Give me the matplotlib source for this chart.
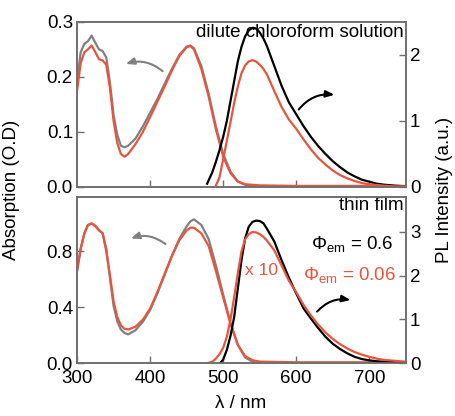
import matplotlib
matplotlib.use("Agg")
import matplotlib.pyplot as plt

plt.rcParams["font.family"] = ["Liberation Sans", "DejaVu Sans"]
plt.rcParams["mathtext.fontset"] = "custom"
plt.rcParams["mathtext.rm"] = "Liberation Sans"
plt.rcParams["mathtext.it"] = "Liberation Sans:italic"

# ---------------------------------------------------------------------------
# Data
# ---------------------------------------------------------------------------

# absorption wavelength grid (nm)
abs_wl = [300, 305, 310, 315, 320, 325, 330, 335, 340, 345, 350, 355, 360,
          365, 370, 380, 390, 400, 410, 420, 430, 440, 450, 455, 460, 470,
          480, 490, 500, 510, 520, 530, 540, 550, 600, 650, 700, 750]

# dilute chloroform solution, absorption (O.D)
abs_sol_gray = [0.19, 0.245, 0.26, 0.265, 0.275, 0.262, 0.25, 0.247, 0.235,
                0.19, 0.13, 0.095, 0.075, 0.072, 0.075, 0.088, 0.11, 0.135,
                0.16, 0.188, 0.215, 0.24, 0.255, 0.257, 0.252, 0.22, 0.17,
                0.11, 0.06, 0.028, 0.01, 0.004, 0.002, 0.001, 0.0, 0.0, 0.0, 0.0]
abs_sol_red = [0.175, 0.225, 0.245, 0.25, 0.257, 0.245, 0.232, 0.23, 0.222,
               0.18, 0.12, 0.08, 0.06, 0.055, 0.06, 0.078, 0.1, 0.127, 0.155,
               0.183, 0.212, 0.238, 0.254, 0.256, 0.25, 0.215, 0.165, 0.105,
               0.055, 0.025, 0.01, 0.005, 0.004, 0.003, 0.002, 0.002, 0.002, 0.002]

# thin film, absorption (O.D)
abs_film_gray = [0.66, 0.82, 0.93, 0.99, 1.0, 0.985, 0.955, 0.93, 0.82, 0.61,
                 0.41, 0.3, 0.24, 0.215, 0.205, 0.235, 0.295, 0.38, 0.5, 0.635,
                 0.77, 0.89, 0.98, 1.015, 1.03, 0.99, 0.89, 0.7, 0.49, 0.29,
                 0.13, 0.04, 0.01, 0.005, 0.0, 0.0, 0.0, 0.0]
abs_film_red = [0.66, 0.82, 0.93, 0.99, 1.0, 0.98, 0.95, 0.93, 0.8, 0.63,
                0.44, 0.33, 0.27, 0.245, 0.24, 0.26, 0.31, 0.39, 0.51, 0.64,
                0.77, 0.88, 0.95, 0.97, 0.97, 0.93, 0.84, 0.66, 0.47, 0.28,
                0.13, 0.05, 0.02, 0.01, 0.005, 0.005, 0.005, 0.005]

# PL, dilute chloroform solution
pl_sol_black_wl = [478, 485, 490, 495, 500, 505, 510, 515, 520, 525, 530, 535,
                   540, 545, 550, 555, 560, 570, 580, 590, 600, 610, 620, 630,
                   640, 650, 660, 670, 680, 690, 700, 710, 720, 735, 750]
pl_sol_black = [0.05, 0.22, 0.38, 0.56, 0.76, 1.0, 1.3, 1.6, 1.9, 2.12, 2.28,
                2.37, 2.41, 2.4, 2.34, 2.25, 2.13, 1.83, 1.53, 1.28, 1.1, 0.92,
                0.76, 0.62, 0.5, 0.39, 0.3, 0.22, 0.16, 0.11, 0.08, 0.05, 0.035,
                0.02, 0.01]
pl_sol_red_wl = [490, 495, 500, 505, 510, 515, 520, 525, 530, 535, 540, 545,
                 550, 555, 560, 570, 580, 590, 600, 610, 620, 630, 640, 650,
                 660, 670, 680, 690, 700, 710, 720, 735, 750]
pl_sol_red = [0.02, 0.15, 0.42, 0.7, 0.98, 1.27, 1.52, 1.72, 1.84, 1.9, 1.92,
              1.9, 1.85, 1.79, 1.7, 1.45, 1.21, 1.02, 0.88, 0.72, 0.57, 0.44,
              0.34, 0.25, 0.18, 0.13, 0.09, 0.06, 0.04, 0.03, 0.02, 0.01, 0.01]

# PL, thin film (red trace x 10)
pl_film_black_wl = [496, 500, 505, 510, 515, 520, 525, 530, 535, 540, 545, 550,
                    555, 560, 570, 580, 590, 600, 610, 620, 630, 640, 650, 660,
                    670, 680, 690, 700, 710, 720, 735, 750]
pl_film_black = [0.0, 0.08, 0.3, 0.62, 1.05, 1.7, 2.35, 2.85, 3.12, 3.23, 3.26,
                 3.25, 3.2, 3.07, 2.78, 2.35, 1.95, 1.59, 1.25, 1.02, 0.8, 0.6,
                 0.44, 0.32, 0.22, 0.14, 0.09, 0.06, 0.04, 0.03, 0.02, 0.01]
pl_film_red_wl = [479, 485, 490, 495, 500, 505, 510, 515, 520, 525, 530, 535,
                  540, 545, 550, 555, 560, 570, 580, 590, 600, 610, 620, 630,
                  640, 650, 660, 670, 680, 690, 700, 710, 720, 735, 750]
pl_film_red = [0.0, 0.03, 0.1, 0.2, 0.35, 0.6, 1.0, 1.5, 2.05, 2.55, 2.83, 2.95,
               3.0, 2.99, 2.95, 2.89, 2.8, 2.58, 2.23, 1.88, 1.62, 1.33, 1.09,
               0.88, 0.7, 0.55, 0.43, 0.33, 0.25, 0.19, 0.14, 0.1, 0.07, 0.05,
               0.03]

GRAY = "#808080"
RED = "#e8553e"
SPINE = "#707070"
FS = 13.5
ARROW = "-|>,head_length=0.5,head_width=0.2"


def style_axes(ax, twin):
    for a in (ax, twin):
        for s in a.spines.values():
            s.set_color(SPINE)
            s.set_linewidth(1.2)
        a.tick_params(direction="in", length=5, width=1, color=SPINE,
                      labelsize=FS, pad=3)


fig = plt.figure(figsize=(4.56, 4.16), dpi=100)
ax_top = fig.add_axes([0.169, 0.5505, 0.721, 0.397])
ax_bot = fig.add_axes([0.169, 0.1274, 0.721, 0.399])
tw_top = ax_top.twinx()
tw_bot = ax_bot.twinx()

# --- top panel: solution ---
ax_top.plot(abs_wl, abs_sol_gray, color=GRAY, lw=1.6)
ax_top.plot(abs_wl, abs_sol_red, color=RED, lw=1.6)
tw_top.plot(pl_sol_black_wl, pl_sol_black, color="black", lw=1.6)
tw_top.plot(pl_sol_red_wl, pl_sol_red, color=RED, lw=1.6)
ax_top.set_xlim(300, 750)
ax_top.set_ylim(0, 0.3)
tw_top.set_ylim(0, 2.5)
ax_top.set_yticks([0.0, 0.1, 0.2, 0.3])
ax_top.set_yticklabels(["0.0", "0.1", "0.2", "0.3"])
tw_top.set_yticks([0, 1, 2])
ax_top.set_xticks([400, 500, 600, 700])
ax_top.tick_params(labelbottom=False)
style_axes(ax_top, tw_top)

ax_top.text(0.994, 0.935, "dilute chloroform solution", transform=ax_top.transAxes,
            ha="right", va="center", fontsize=FS)
ax_top.annotate("", xy=(363, 0.222), xytext=(420, 0.207),
                arrowprops=dict(arrowstyle=ARROW, color=GRAY, lw=1.5,
                                connectionstyle="arc3,rad=0.3"))
tw_top.annotate("", xy=(656, 1.39), xytext=(601, 1.14),
                arrowprops=dict(arrowstyle=ARROW, color="black", lw=1.5,
                                connectionstyle="arc3,rad=-0.3"))

# --- bottom panel: thin film ---
ax_bot.plot(abs_wl, abs_film_gray, color=GRAY, lw=1.6)
ax_bot.plot(abs_wl, abs_film_red, color=RED, lw=1.6)
tw_bot.plot(pl_film_black_wl, pl_film_black, color="black", lw=1.6)
tw_bot.plot(pl_film_red_wl, pl_film_red, color=RED, lw=1.6)
ax_bot.set_xlim(300, 750)
ax_bot.set_ylim(0, 1.19)
tw_bot.set_ylim(0, 3.8)
ax_bot.set_yticks([0.0, 0.4, 0.8])
tw_bot.set_yticks([0, 1, 2, 3])
ax_bot.set_xticks([300, 400, 500, 600, 700])
style_axes(ax_bot, tw_bot)
ax_bot.tick_params(axis="x", pad=5)

ax_bot.text(0.994, 0.95, "thin film", transform=ax_bot.transAxes,
            ha="right", va="center", fontsize=FS)
tw_bot.text(733, 2.72, r"$\Phi_{\rm em}$ = 0.6", ha="right", va="center",
            fontsize=FS, color="black")
tw_bot.text(736, 2.02, r"$\Phi_{\rm em}$ = 0.06", ha="right", va="center",
            fontsize=FS, color=RED)
tw_bot.text(530, 2.12, "x 10", ha="left", va="center", fontsize=FS - 1,
            color=RED)
ax_bot.annotate("", xy=(370, 0.886), xytext=(424, 0.84),
                arrowprops=dict(arrowstyle=ARROW, color=GRAY, lw=1.5,
                                connectionstyle="arc3,rad=0.3"))
tw_bot.annotate("", xy=(678, 1.43), xytext=(626, 1.13),
                arrowprops=dict(arrowstyle=ARROW, color="black", lw=1.5,
                                connectionstyle="arc3,rad=-0.3"))

# axis labels
fig.text(12 / 456, 1 - 190 / 416, "Absorption (O.D)", rotation=90,
         ha="center", va="center", fontsize=FS)
fig.text(445 / 456, 1 - 190 / 416, "PL Intensity (a.u.)", rotation=90,
         ha="center", va="center", fontsize=FS)
fig.text(241 / 456, 1 - 404 / 416, "λ / nm", ha="center", va="center",
         fontsize=FS)

fig.savefig("out.png", dpi=100)
